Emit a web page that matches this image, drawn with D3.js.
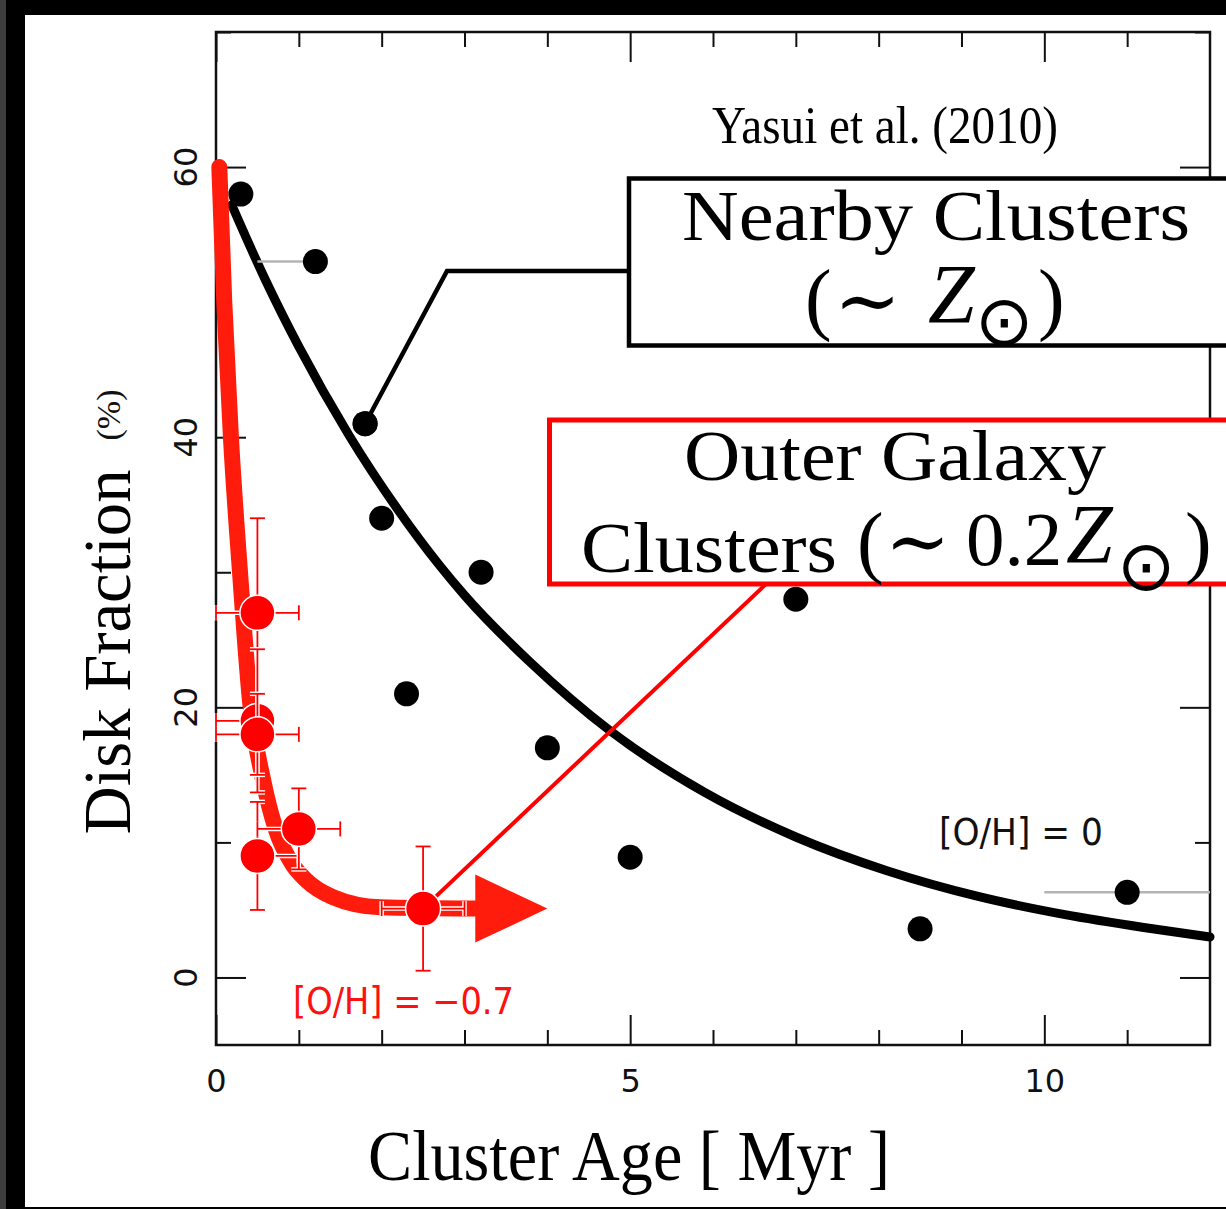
<!DOCTYPE html>
<html>
<head>
<meta charset="utf-8">
<script src="https://cdn.jsdelivr.net/npm/d3@7"></script>
<style>
  html, body { margin: 0; padding: 0; background: #000; }
  svg { display: block; }
</style>
</head>
<body>
<svg id="chart" width="1226" height="1209"></svg>
<script>
// ---- Nearby clusters (~solar metallicity) ----
const nearbyAge      = [0.3, 1.2, 1.8, 2.0, 3.2, 2.3, 4.0, 5.0, 7.0, 8.5, 11.0];
const nearbyFrac     = [58.0, 53.0, 41.0, 34.0, 30.0, 21.0, 17.0, 8.9, 28.0, 3.6, 6.3];
const nearbyAgeErrLo = [0, 0.7, 0, 0, 0, 0, 0, 0, 0, 0, 1.0];
const nearbyAgeErrHi = [0, 0, 0, 0, 0, 0, 0, 0, 0, 0, 1.0];

// fitted decline for nearby clusters
const nearbyFitAge  = [0.19, 0.6, 1.0, 1.6, 2.2, 2.7, 3.0, 3.8, 4.75, 5.9, 7.0, 8.1, 9.2, 10.25, 11.2, 12.0];
const nearbyFitFrac = [57.2, 51.6, 46.7, 40.2, 34.6, 30.5, 28.3, 23.3, 18.3, 13.7, 10.4, 7.9, 6.0, 4.65, 3.7, 3.0];

// ---- Outer Galaxy clusters (~0.2 solar metallicity) ----
const outerAge      = [0.5, 0.5, 0.5, 0.5, 1.0, 2.5];
const outerFrac     = [27.0, 19.0, 18.0, 9.0, 11.0, 5.1];
const outerFracErr  = [7.0, 5.3, 3.0, 4.0, 3.0, 4.6];
const outerAgeErrLo = [0.5, 0.5, 0.5, 0.0, 0.5, 0.5];
const outerAgeErrHi = [0.5, 0.0, 0.5, 0.5, 0.5, 0.5];

// fitted decline for outer Galaxy clusters (ends in an arrow)
const outerFitAge  = [0.04, 0.10, 0.18, 0.29, 0.41, 0.57, 0.72, 0.92, 1.09, 1.41, 1.98, 3.13];
const outerFitFrac = [60.0, 50.0, 40.0, 30.0, 20.5, 14.6, 11.0, 8.4, 7.2, 5.95, 5.2, 5.1];
const outerArrowTipAge = 4.0;

// ---- axes ----
const xTicksMajor = [0, 5, 10];
const xTicksMinor = [1, 2, 3, 4, 6, 7, 8, 9, 11];
const yTicksMajor = [0, 20, 40, 60];
const yTicksMinor = [10, 30, 50, 70];

const svg = d3.select("#chart");
const W = 1226, H = 1209;

// page frame
svg.append("rect").attr("width", W).attr("height", H).attr("fill", "#000");
svg.append("rect").attr("x", 0).attr("y", 0).attr("width", 6).attr("height", H).attr("fill", "#3d3d3d");
svg.append("rect").attr("x", 25).attr("y", 15).attr("width", W - 25).attr("height", 1192).attr("fill", "#fff");

const x = d3.scaleLinear().domain([0, 12]).range([216, 1210]);
const y = d3.scaleLinear().domain([-5, 70]).range([1045, 32]);

const SERIF = "'Liberation Serif', 'Times New Roman', serif";
const SANS = "'DejaVu Sans', Verdana, sans-serif";
const MATH = "'DejaVu Serif', serif";
const INK = "#111";

// plot frame
svg.append("rect")
  .attr("x", x(0)).attr("y", y(70))
  .attr("width", x(12) - x(0)).attr("height", y(-5) - y(70))
  .attr("fill", "none").attr("stroke", INK).attr("stroke-width", 2.5);

function styleAxis(g) {
  g.select(".domain").remove();
  g.selectAll(".tick line").attr("stroke", INK).attr("stroke-width", 2);
  g.attr("font-family", SANS).attr("font-size", 32);
  g.selectAll(".tick text").attr("fill", INK);
}

// bottom
svg.append("g").attr("transform", `translate(0,${y(-5)})`)
  .call(d3.axisBottom(x).tickValues(xTicksMajor).tickSizeInner(-30).tickSizeOuter(0).tickPadding(24).tickFormat(d3.format("d")))
  .call(styleAxis);
svg.append("g").attr("transform", `translate(0,${y(-5)})`)
  .call(d3.axisBottom(x).tickValues(xTicksMinor).tickSizeInner(-15).tickSizeOuter(0).tickFormat(""))
  .call(styleAxis);
// top
svg.append("g").attr("transform", `translate(0,${y(70)})`)
  .call(d3.axisTop(x).tickValues(xTicksMajor).tickSizeInner(-30).tickSizeOuter(0).tickFormat(""))
  .call(styleAxis);
svg.append("g").attr("transform", `translate(0,${y(70)})`)
  .call(d3.axisTop(x).tickValues(xTicksMinor).tickSizeInner(-15).tickSizeOuter(0).tickFormat(""))
  .call(styleAxis);
// left
svg.append("g").attr("transform", `translate(${x(0)},0)`)
  .call(d3.axisLeft(y).tickValues(yTicksMajor).tickSizeInner(-30).tickSizeOuter(0).tickFormat(""))
  .call(styleAxis);
svg.append("g").attr("transform", `translate(${x(0)},0)`)
  .call(d3.axisLeft(y).tickValues(yTicksMinor).tickSizeInner(-15).tickSizeOuter(0).tickFormat(""))
  .call(styleAxis);
// right
svg.append("g").attr("transform", `translate(${x(12)},0)`)
  .call(d3.axisRight(y).tickValues(yTicksMajor).tickSizeInner(-30).tickSizeOuter(0).tickFormat(""))
  .call(styleAxis);
svg.append("g").attr("transform", `translate(${x(12)},0)`)
  .call(d3.axisRight(y).tickValues(yTicksMinor).tickSizeInner(-15).tickSizeOuter(0).tickFormat(""))
  .call(styleAxis);

// rotated y tick labels
svg.append("g").selectAll("text").data(yTicksMajor).join("text")
  .attr("transform", d => `translate(185,${y(d)}) rotate(-90)`)
  .attr("text-anchor", "middle").attr("dy", "0.36em")
  .attr("font-family", SANS).attr("font-size", 32).attr("fill", INK)
  .text(d => d);

// axis titles
svg.append("text")
  .attr("x", 629).attr("y", 1180).attr("text-anchor", "middle")
  .attr("font-family", SERIF).attr("font-size", 72).attr("fill", "#000")
  .attr("textLength", 522).attr("lengthAdjust", "spacingAndGlyphs")
  .text("Cluster Age [ Myr ]");
svg.append("text")
  .attr("transform", "translate(130,652) rotate(-90)").attr("text-anchor", "middle")
  .attr("font-family", SERIF).attr("font-size", 68).attr("fill", "#000")
  .attr("textLength", 365).attr("lengthAdjust", "spacingAndGlyphs")
  .text("Disk Fraction");
svg.append("text")
  .attr("transform", "translate(120,415) rotate(-90)").attr("text-anchor", "middle")
  .attr("font-family", SERIF).attr("font-size", 34).attr("fill", INK)
  .text("(%)");

// reference
svg.append("text")
  .attr("x", 885).attr("y", 143).attr("text-anchor", "middle")
  .attr("font-family", SERIF).attr("font-size", 52).attr("fill", "#000")
  .attr("textLength", 346).attr("lengthAdjust", "spacingAndGlyphs")
  .text("Yasui et al. (2010)");

// ---- nearby clusters ----
const line = d3.line().x(d => x(d[0])).y(d => y(d[1])).curve(d3.curveMonotoneX);
svg.append("path")
  .datum(d3.zip(nearbyFitAge, nearbyFitFrac))
  .attr("d", line).attr("fill", "none").attr("stroke", "#000").attr("stroke-width", 9)
  .attr("stroke-linecap", "round");

const nearby = nearbyAge.map((a, i) => ({a, f: nearbyFrac[i], lo: nearbyAgeErrLo[i], hi: nearbyAgeErrHi[i]}));
svg.append("g").selectAll("line").data(nearby.filter(d => d.lo + d.hi > 0)).join("line")
  .attr("x1", d => x(d.a - d.lo)).attr("x2", d => x(d.a + d.hi))
  .attr("y1", d => y(d.f)).attr("y2", d => y(d.f))
  .attr("stroke", "#b4b4b4").attr("stroke-width", 2.5);
svg.append("g").selectAll("circle").data(nearby).join("circle")
  .attr("cx", d => x(d.a)).attr("cy", d => y(d.f)).attr("r", 12.5).attr("fill", "#000");

// [O/H] labels
svg.append("text")
  .attr("x", 939).attr("y", 845)
  .attr("font-family", SANS).attr("font-size", 37).attr("fill", INK)
  .attr("textLength", 164).attr("lengthAdjust", "spacingAndGlyphs")
  .text("[O/H] = 0");
svg.append("text")
  .attr("x", 293).attr("y", 1014)
  .attr("font-family", SANS).attr("font-size", 37).attr("fill", "#ff1010")
  .attr("textLength", 221).attr("lengthAdjust", "spacingAndGlyphs")
  .text("[O/H] = \u22120.7");

// ---- outer Galaxy clusters ----
const RED_FIT = "#ff1c0c";
const outerFit = d3.zip(outerFitAge, outerFitFrac);
svg.append("path")
  .datum(outerFit)
  .attr("d", line).attr("fill", "none").attr("stroke", RED_FIT).attr("stroke-width", 16)
  .attr("stroke-linecap", "round").attr("stroke-linejoin", "round");
const last = outerFit[outerFit.length - 1];
svg.append("path")
  .attr("d", `M${x(last[0])},${y(last[1]) - 34} L${x(outerArrowTipAge)},${y(last[1])} L${x(last[0])},${y(last[1]) + 34} Z`)
  .attr("fill", RED_FIT);

// leader line from the red box down to the oldest outer cluster
const fIdx = outerAge.length - 1;
svg.append("line")
  .attr("x1", 766).attr("y1", 584)
  .attr("x2", x(outerAge[fIdx])).attr("y2", y(outerFrac[fIdx]))
  .attr("stroke", "#ff0000").attr("stroke-width", 4);

const outer = outerAge.map((a, i) => ({a, f: outerFrac[i], e: outerFracErr[i], lo: outerAgeErrLo[i], hi: outerAgeErrHi[i]}));
const cap = 7.5;
outer.forEach(d => {
  const g = svg.append("g");
  const segs = [];
  const cx = x(d.a), cy = y(d.f);
  const yTop = y(d.f + d.e), yBot = y(d.f - d.e);
  segs.push([cx, yTop, cx, yBot], [cx - cap, yTop, cx + cap, yTop], [cx - cap, yBot, cx + cap, yBot]);
  if (d.lo > 0) {
    const xl = x(d.a - d.lo);
    segs.push([xl, cy, cx, cy], [xl, cy - cap, xl, cy + cap]);
  }
  if (d.hi > 0) {
    const xr = x(d.a + d.hi);
    segs.push([cx, cy, xr, cy], [xr, cy - cap, xr, cy + cap]);
  }
  [["#fff", 4.5], ["#ff0000", 1.8]].forEach(([c, w]) => {
    g.selectAll(null).data(segs).join("line")
      .attr("x1", s => s[0]).attr("y1", s => s[1]).attr("x2", s => s[2]).attr("y2", s => s[3])
      .attr("stroke", c).attr("stroke-width", w).attr("stroke-linecap", "butt");
  });
  g.append("circle").attr("cx", cx).attr("cy", cy).attr("r", 17.5)
    .attr("fill", "#ff0000").attr("stroke", "#fff").attr("stroke-width", 1.5);
});

// ---- annotation: nearby clusters ----
const nIdx = 2;
svg.append("polyline")
  .attr("points", `629,271 447,271 ${x(nearbyAge[nIdx])},${y(nearbyFrac[nIdx])}`)
  .attr("fill", "none").attr("stroke", "#000").attr("stroke-width", 4.5);
svg.append("circle")
  .attr("cx", x(nearbyAge[nIdx])).attr("cy", y(nearbyFrac[nIdx])).attr("r", 12.5).attr("fill", "#000");

svg.append("rect")
  .attr("x", 629).attr("y", 178.5).attr("width", 700).attr("height", 167)
  .attr("fill", "#fff").attr("stroke", "#000").attr("stroke-width", 4.5);
svg.append("text")
  .attr("x", 936).attr("y", 240).attr("text-anchor", "middle")
  .attr("font-family", SERIF).attr("font-size", 72).attr("fill", "#000")
  .attr("textLength", 508).attr("lengthAdjust", "spacingAndGlyphs")
  .text("Nearby Clusters");
const l2 = svg.append("text").attr("font-family", SERIF).attr("fill", "#000");
l2.append("tspan").attr("x", 805).attr("y", 325).attr("font-size", 80).text("(");
l2.append("tspan").attr("x", 834).attr("y", 328).attr("font-size", 80).attr("font-family", MATH).text("\u223C");
l2.append("tspan").attr("x", 928).attr("y", 323).attr("font-size", 84).attr("font-style", "italic").text("Z");
l2.append("tspan").attr("x", 975).attr("y", 345).attr("font-size", 70).attr("font-family", SANS).text("\u2299");
l2.append("tspan").attr("x", 1038).attr("y", 325).attr("font-size", 80).text(")");

// ---- annotation: outer Galaxy clusters ----
svg.append("rect")
  .attr("x", 549.5).attr("y", 420).attr("width", 800).attr("height", 164)
  .attr("fill", "#fff").attr("stroke", "#ff0000").attr("stroke-width", 5);
svg.append("text")
  .attr("x", 895).attr("y", 480).attr("text-anchor", "middle")
  .attr("font-family", SERIF).attr("font-size", 72).attr("fill", "#000")
  .attr("textLength", 422).attr("lengthAdjust", "spacingAndGlyphs")
  .text("Outer Galaxy");
const o2 = svg.append("text").attr("font-family", SERIF).attr("fill", "#000");
o2.append("tspan").attr("x", 581).attr("y", 572).attr("font-size", 72)
  .attr("textLength", 256).attr("lengthAdjust", "spacingAndGlyphs").text("Clusters");
o2.append("tspan").attr("x", 857).attr("y", 568).attr("font-size", 80).text("(");
o2.append("tspan").attr("x", 885).attr("y", 568).attr("font-size", 78).attr("font-family", MATH).text("\u223C");
o2.append("tspan").attr("x", 966).attr("y", 565).attr("font-size", 77).text("0.2");
o2.append("tspan").attr("x", 1066).attr("y", 563).attr("font-size", 84).attr("font-style", "italic").text("Z");
o2.append("tspan").attr("x", 1117).attr("y", 590).attr("font-size", 70).attr("font-family", SANS).text("\u2299");
o2.append("tspan").attr("x", 1185).attr("y", 568).attr("font-size", 80).text(")");
</script>
</body>
</html>
